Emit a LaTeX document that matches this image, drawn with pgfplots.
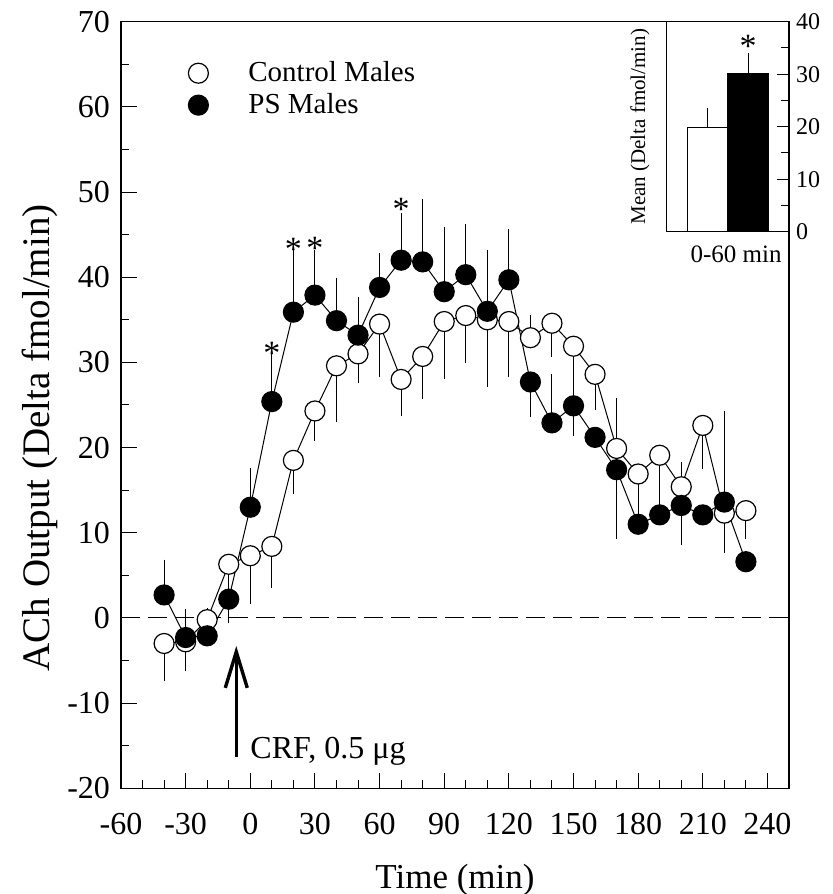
\documentclass[border=0pt]{standalone}
\usepackage{pgfplots}
\pgfplotsset{compat=1.18}
\usepackage{pgfplotstable}
\usepackage{fontspec}
\setmainfont{Liberation Serif}
\usetikzlibrary{arrows.meta}

\pgfplotstableread{
t y ep em
-40 -3.0 0 3.5
-30 -2.8 0 2.5
-20 -0.2 0.4 0
-10 6.3 0 6.0
0 7.3 0 4.7
10 8.4 0 4.0
20 18.5 0 3.0
30 24.3 0 2.6
40 29.6 0 5.6
50 31.0 0 2.5
60 34.5 0 5.3
70 28.0 0 3.4
80 30.7 0 4.0
90 34.8 0 5.8
100 35.5 0 4.6
110 35.0 0 7.0
120 34.8 0 5.6
130 32.9 1.7 0
140 34.6 0 3.0
150 31.9 0 9.6
160 28.6 0 3.3
170 19.9 0 9.7
180 16.9 0 4.0
190 19.1 0 5.4
200 15.4 2.0 0
210 22.6 0 4.2
220 12.3 0 3.7
230 12.6 0 2.4
}\ctrl

\pgfplotstableread{
t y ep em
-40 2.7 3.2 0
-30 -2.3 2.4 0
-20 -2.1 0 0
-10 2.2 0 0
0 13.0 3.7 0
10 25.4 5.1 0
20 35.9 6.8 0
30 37.9 4.4 0
40 34.9 4.1 0
50 33.2 3.5 0
60 38.8 3.1 0
70 42.0 4.6 0
80 41.8 6.4 0
90 38.3 6.7 0
100 40.3 5.0 0
110 36.0 6.2 0
120 39.7 5.0 0
130 27.7 0 3.2
140 22.9 4.8 0
150 24.9 0 0
160 21.2 0 0
170 17.4 7.5 0
180 11.0 0 0
190 12.1 2.5 0
200 13.2 0 3.7
210 12.1 0 0
220 13.6 9.7 0
230 6.6 0 0
}\ps

\begin{document}
\begin{tikzpicture}[x=1pt,y=1pt]
\path[use as bounding box] (0,0) rectangle (416,447);
\begin{axis}[
  at={(60.5pt,52.85pt)}, anchor=south west,
  scale only axis, width=334pt, height=383.3pt,
  xmin=-60, xmax=250, ymin=-20, ymax=70,
  xtick={-60,-30,...,240}, ytick={-20,-10,...,70},
  minor x tick num=2, minor y tick num=1,
  xtick pos=lower, ytick pos=left, tick align=inside,
  major tick length=7.8pt, minor tick length=4pt,
  tick style={black, line width=0.5pt},
  axis line style={line width=0.6pt},
  /pgf/number format/assume math mode=true,
  ticklabel style={font=\fontsize{16}{17}\selectfont},
  xticklabel style={yshift=-9pt},
  yticklabel style={xshift=-2pt},
  xlabel={Time (min)}, ylabel={ACh Output (Delta fmol/min)},
  xlabel style={font=\fontsize{17.5}{18}\selectfont, at={(axis description cs:0.5,-0.12)}, anchor=center},
  ylabel style={font=\fontsize{19.5}{20}\selectfont, at={(axis description cs:-0.121,0.457)}, anchor=center},
  legend image code/.code={\path[draw=none, fill=none] (-6pt,0pt) -- (24pt,0pt); \draw[#1, draw=none] plot coordinates {(0pt,0pt)};},
  legend style={at={(axis description cs:0.0973,0.951)}, anchor=north west,
    draw=none, fill=none, inner sep=0pt,
    font=\fontsize{14.5}{15}\selectfont, row sep=2.4pt,
    nodes={inner sep=1pt}},
  legend cell align=left,
  clip=false,
]
\addplot[black, dash pattern=on 9.5pt off 4pt, line width=0.5pt, forget plot] coordinates {(-60,0) (250,0)};

\addplot[black, only marks, mark=none, forget plot,
  error bars/.cd, y dir=both, y explicit,
  error bar style={line width=0.5pt},
  error mark options={line width=0.5pt, mark size=4pt}]
  table[x=t, y=y, y error plus=ep, y error minus=em] {\ctrl};
\addplot[black, only marks, mark=none, forget plot,
  error bars/.cd, y dir=both, y explicit,
  error bar style={line width=0.5pt},
  error mark options={line width=0.5pt, mark size=4pt}]
  table[x=t, y=y, y error plus=ep, y error minus=em] {\ps};

\addplot[black, line width=0.5pt, mark=*, mark size=5pt,
  mark options={fill=white, draw=black, line width=0.6pt}, forget plot]
  table[x=t, y=y] {\ctrl};
\addplot[black, line width=0.5pt, mark=*, mark size=5pt,
  mark options={fill=black, draw=black, line width=0.6pt}, forget plot]
  table[x=t, y=y] {\ps};

\addlegendimage{black, mark=*, mark size=5pt, mark options={fill=white, draw=black, line width=0.6pt}}
\addlegendentry{Control Males}
\addlegendimage{black, mark=*, mark size=5pt, mark options={fill=black, draw=black, line width=0.6pt}}
\addlegendentry{PS Males}

\node[font=\fontsize{17}{17}\selectfont, yshift=-3pt] at (axis cs:10,31.8) {*};
\node[font=\fontsize{17}{17}\selectfont, yshift=-3pt] at (axis cs:20,44.0) {*};
\node[font=\fontsize{17}{17}\selectfont, yshift=-3pt] at (axis cs:30,44.1) {*};
\node[font=\fontsize{17}{17}\selectfont, yshift=-3pt] at (axis cs:70,48.7) {*};

\draw[line width=1.7pt, -{Straight Barb[length=18pt, width=11pt, line width=1.7pt]}] (axis cs:-6.5,-16.3) -- (axis cs:-6.5,-3.3);
\node[anchor=base west, inner sep=0pt, font=\fontsize{16}{17}\selectfont] at (axis cs:-0.1,-16.5) {CRF, 0.5 μg};
\end{axis}

\begin{axis}[
  at={(333.35pt,331.15pt)}, anchor=south west,
  scale only axis, width=61.15pt, height=105pt,
  xmin=0, xmax=6, ymin=0, ymax=40,
  xtick=\empty, ytick={0,10,...,40}, minor y tick num=1,
  ytick pos=right, yticklabel pos=right, tick align=inside,
  major tick length=6pt, minor tick length=4pt,
  tick style={black, line width=0.5pt},
  axis line style={line width=0.6pt},
  axis background/.style={fill=white},
  /pgf/number format/assume math mode=true,
  yticklabel style={font=\fontsize{12}{13}\selectfont},
  ylabel={Mean (Delta fmol/min)},
  ylabel style={font=\fontsize{10.5}{11}\selectfont, at={(axis description cs:-0.218,0.5)}, anchor=center},
  xlabel={0-60 min},
  xlabel style={font=\fontsize{12.5}{13}\selectfont, at={(axis description cs:0.567,-0.11)}, anchor=center},
  clip=false,
]
\addplot[ybar, bar width=2, bar shift=0pt, fill=white, draw=black, line width=0.5pt,
  error bars/.cd, y dir=plus, y explicit,
  error bar style={line width=0.5pt},
  error mark options={line width=0.5pt, mark size=4pt}]
  coordinates {(2,19.8) +- (0,2.3)};
\addplot[ybar, bar width=2, bar shift=0pt, fill=black, draw=black, line width=0.5pt,
  error bars/.cd, y dir=plus, y explicit,
  error bar style={line width=0.5pt},
  error mark options={line width=0.5pt, mark size=4pt}]
  coordinates {(4,30.1) +- (0,2.4)};
\node[font=\fontsize{17}{17}\selectfont, yshift=-3pt] at (axis cs:4,36.5) {*};
\end{axis}
\end{tikzpicture}
\end{document}
